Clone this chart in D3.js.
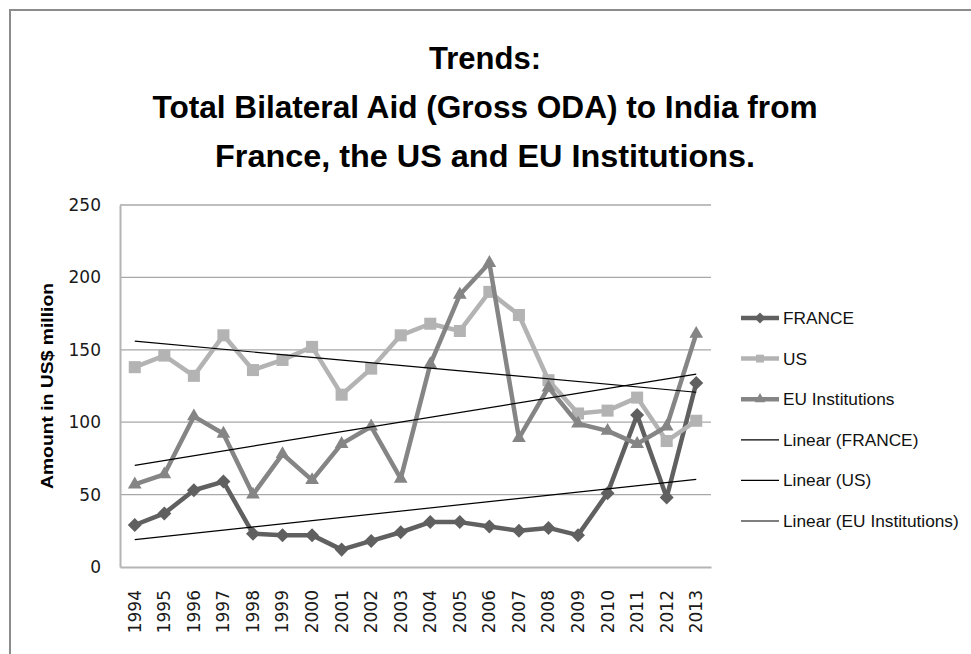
<!doctype html>
<html>
<head>
<meta charset="utf-8">
<style>
  body { margin: 0; background: #fff; }
  svg { display: block; }
</style>
<script src="https://d3js.org/d3.v7.min.js"></script>
</head>
<body>
<svg width="971" height="654"></svg>
<script>
// data (US$ million)
var years = ["1994","1995","1996","1997","1998","1999","2000","2001","2002","2003",
             "2004","2005","2006","2007","2008","2009","2010","2011","2012","2013"];
var france = [29, 37, 53, 59, 23, 22, 22, 12, 18, 24, 31, 31, 28, 25, 27, 22, 51, 105, 48, 127];
var us     = [138, 146, 132, 160, 136, 143, 152, 119, 137, 160, 168, 163, 190, 174, 129, 106, 108, 117, 87, 101];
var eu     = [57, 64, 104, 92, 50, 78, 60, 85, 97, 61, 140, 188, 210, 89, 124, 99, 94, 85, 97, 161];
var yTicks = [0, 50, 100, 150, 200, 250];
var titleLines = ["Trends:", "Total Bilateral Aid (Gross ODA) to India from", "France, the US and EU Institutions."];

var svg = d3.select("svg");
var plotL = 120, plotR = 711, plotT = 205, plotB = 567;

var x = d3.scaleBand().domain(years).range([plotL, plotR]);
var y = d3.scaleLinear().domain([0, 250]).range([plotB, plotT]);
var cx = function(i) { return x(years[i]) + x.bandwidth() / 2; };

var series = [
  { name: "FRANCE", values: france, color: "#606060", shape: d3.symbolDiamond2, size: 125 },
  { name: "US", values: us, color: "#b3b3b3", shape: d3.symbolSquare2, size: 185 },
  { name: "EU Institutions", values: eu, color: "#858585", shape: d3.symbolTriangle2, size: 135 }
];

// outer frame (only top and left visible)
svg.append("path")
   .attr("d", "M10,654 L10,10 L971,10")
   .attr("fill", "none").attr("stroke", "#8c8c8c").attr("stroke-width", 2);

// title
var font = "'Liberation Sans Narrow', 'Liberation Sans', Arial, sans-serif";
var titleLen = [112, 665, 540];
svg.append("g").selectAll("text").data(titleLines).enter().append("text")
   .attr("x", 485).attr("y", function(d, i) { return 69 + i * 49; })
   .attr("text-anchor", "middle")
   .attr("font-family", font).attr("font-weight", "bold").attr("font-size", 32)
   .attr("textLength", function(d, i) { return titleLen[i]; })
   .attr("lengthAdjust", "spacingAndGlyphs")
   .text(function(d) { return d; });

// gridlines
svg.append("g").selectAll("line").data(yTicks.slice(1)).enter().append("line")
   .attr("x1", plotL).attr("x2", plotR)
   .attr("y1", function(d) { return y(d); }).attr("y2", function(d) { return y(d); })
   .attr("stroke", "#a8a8a8").attr("stroke-width", 1.3);

// y axis
var yAxis = svg.append("g").attr("transform", "translate(" + plotL + ",0)")
   .call(d3.axisLeft(y).tickValues(yTicks).tickSize(0).tickPadding(19));
yAxis.select(".domain").attr("stroke", "#b4b4b4").attr("stroke-width", 2);
yAxis.selectAll("text").attr("font-family", "'DejaVu Sans', sans-serif").attr("font-size", 17).attr("fill", "#1a1a1a");

// x axis
var xAxis = svg.append("g").attr("transform", "translate(0," + plotB + ")")
   .call(d3.axisBottom(x).tickSize(0));
xAxis.select(".domain").attr("stroke", "#b4b4b4").attr("stroke-width", 2);
xAxis.selectAll("text")
   .attr("font-family", "'DejaVu Sans', sans-serif").attr("font-size", 17).attr("fill", "#1a1a1a")
   .attr("transform", "rotate(-90)")
   .attr("text-anchor", "end")
   .attr("x", -23).attr("y", 0).attr("dy", "0.35em");

// y axis title
svg.append("text")
   .attr("transform", "translate(53,386) rotate(-90)")
   .attr("text-anchor", "middle")
   .attr("font-family", "'Liberation Sans', Arial, sans-serif").attr("font-weight", "bold").attr("font-size", 17)
   .attr("textLength", 206).attr("lengthAdjust", "spacingAndGlyphs")
   .text("Amount in US$ million");

// series lines and markers
var line = d3.line().x(function(d, i) { return cx(i); }).y(function(d) { return y(d); });
series.forEach(function(s) {
  svg.append("path").datum(s.values)
     .attr("d", line).attr("fill", "none")
     .attr("stroke", s.color).attr("stroke-width", 4.5).attr("stroke-linejoin", "round");
  svg.append("g").selectAll("path").data(s.values).enter().append("path")
     .attr("transform", function(d, i) { return "translate(" + cx(i) + "," + y(d) + ")"; })
     .attr("d", d3.symbol().type(s.shape).size(s.size))
     .attr("fill", s.color);
});

// linear trend lines (least squares)
function fit(v) {
  var n = v.length, mx = (n - 1) / 2, my = d3.mean(v), sxy = 0, sxx = 0;
  v.forEach(function(d, i) { sxy += (i - mx) * (d - my); sxx += (i - mx) * (i - mx); });
  var b = sxy / sxx;
  return [my - b * mx, my + b * (n - 1 - mx)];
}
series.forEach(function(s) {
  var f = fit(s.values);
  svg.append("line")
     .attr("x1", cx(0)).attr("y1", y(f[0]))
     .attr("x2", cx(years.length - 1)).attr("y2", y(f[1]))
     .attr("stroke", "#000").attr("stroke-width", 1.2);
});

// legend
var legendItems = series.map(function(s) { return { name: s.name, color: s.color, shape: s.shape, marker: true }; })
  .concat(series.map(function(s) { return { name: "Linear (" + s.name + ")", color: "#000", marker: false }; }));
var lg = svg.append("g").selectAll("g").data(legendItems).enter().append("g")
   .attr("transform", function(d, i) { return "translate(741," + (318 + i * 40.6) + ")"; });
lg.append("line").attr("x1", 0).attr("x2", 38)
   .attr("stroke", function(d) { return d.color; })
   .attr("stroke-width", function(d) { return d.marker ? 4.5 : 1.2; });
lg.filter(function(d) { return d.marker; }).append("path")
   .attr("transform", "translate(19,0)")
   .attr("d", function(d) { return d3.symbol().type(d.shape).size(80)(); })
   .attr("fill", function(d) { return d.color; });
lg.append("text").attr("x", 42).attr("dy", "0.35em")
   .attr("font-family", font).attr("font-size", 17.3).attr("fill", "#111")
   .text(function(d) { return d.name; });
</script>
</body>
</html>
